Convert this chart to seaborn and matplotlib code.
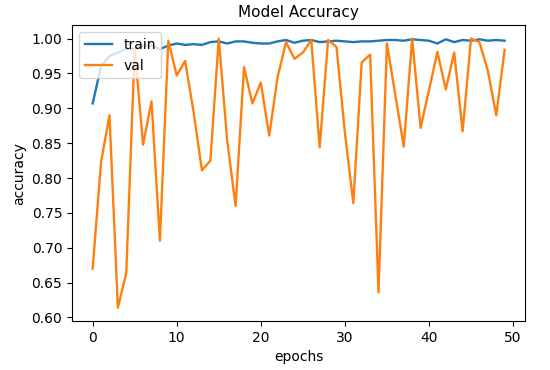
from matplotlib import pyplot as plt
import numpy as np
import pandas as pd
import seaborn as sb

epochs = list(range(50))

train_acc = [0.907, 0.960, 0.975, 0.980, 0.985, 0.985, 0.990, 0.990, 0.985, 0.990,
             0.993, 0.991, 0.992, 0.991, 0.995, 0.996, 0.993, 0.996, 0.996, 0.994,
             0.993, 0.993, 0.996, 0.998, 0.994, 0.997, 0.998, 0.995, 0.996, 0.997,
             0.996, 0.995, 0.996, 0.996, 0.997, 0.998, 0.998, 0.997, 0.999, 0.998,
             0.997, 0.993, 0.999, 0.995, 0.998, 0.997, 0.999, 0.997, 0.998, 0.997]

val_acc = [0.670, 0.823, 0.890, 0.614, 0.664, 0.985, 0.848, 0.910, 0.710, 0.997,
           0.947, 0.968, 0.895, 0.811, 0.825, 1.000, 0.854, 0.760, 0.959, 0.907,
           0.937, 0.861, 0.945, 0.995, 0.971, 0.980, 0.998, 0.844, 0.998, 0.988,
           0.865, 0.764, 0.966, 0.977, 0.636, 0.993, 0.919, 0.845, 1.000, 0.872,
           0.926, 0.981, 0.927, 0.980, 0.867, 1.000, 0.995, 0.954, 0.890, 0.984]

df = pd.DataFrame({"epochs": epochs, "train": train_acc, "val": val_acc})
df = df.melt(id_vars="epochs", var_name="set", value_name="accuracy")

fig = plt.figure(figsize=(5.5, 3.7), dpi=100)
ax = fig.add_axes([0.131, 0.132, 0.824, 0.8])
p = sb.lineplot(data=df, x="epochs", y="accuracy", hue="set",
                palette=["#1f77b4", "#ff7f0e"], linewidth=1.7, ax=ax)
ax.set_title("Model Accuracy", fontsize=11)
ax.set_xlabel("epochs", fontsize=10)
ax.set_ylabel("accuracy", fontsize=10)
ax.tick_params(labelsize=10)
ax.set_xticks([0, 10, 20, 30, 40, 50])
ax.set_yticks([0.60, 0.65, 0.70, 0.75, 0.80, 0.85, 0.90, 0.95, 1.00])
ax.legend(loc="upper left", fontsize=10)
fig.savefig("out.png", dpi=100)
